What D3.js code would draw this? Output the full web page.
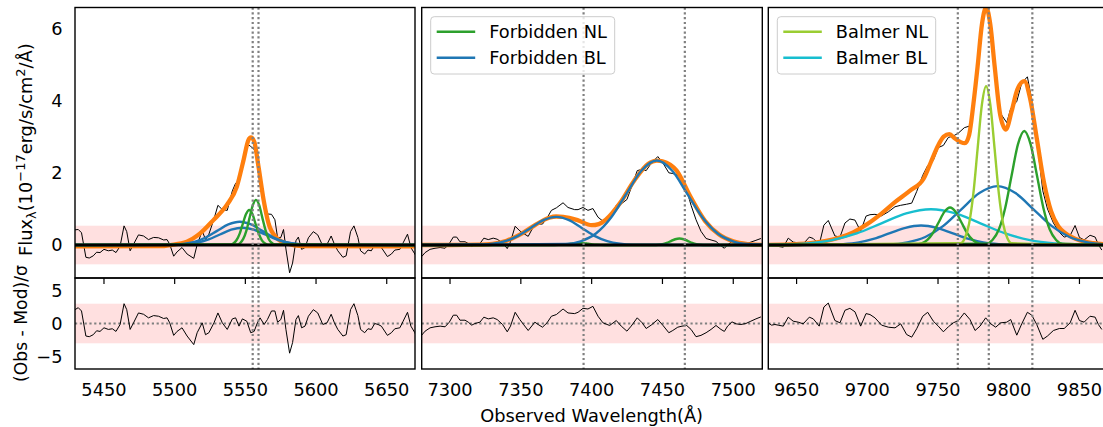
<!DOCTYPE html>
<html><head><meta charset="utf-8">
<script src="https://cdn.jsdelivr.net/npm/d3@7"></script>
<style>
body{margin:0;background:#fff}
svg{display:block}
text{font-family:"DejaVu Sans",sans-serif;fill:#000}
</style></head>
<body><svg id="c" width="1103" height="427"></svg>
<script>
// ---------------- DATA ----------------
const xDomain1 = [5429.5, 5670], xDomain2 = [7280, 7520.5], xDomain3 = [9630, 9870.4];
const xTicks1 = [5450, 5500, 5550, 5600, 5650];
const xTicks2 = [7300, 7350, 7400, 7450, 7500];
const xTicks3 = [9650, 9700, 9750, 9800, 9850];
const yTicksTop = [0, 2, 4, 6];
const yTicksRes = [-5, 0, 5];
const lineWave1 = [5555.2, 5559.3];
const lineWave2 = [7394.3, 7465.8];
const lineWave3 = [9764.0, 9785.9, 9816.7];
const noiseBand = 0.535, residBand = 3;

// Panel 1 observed spectrum / residuals
const obsWave1 = [5429.5,5431.8,5434.1,5437.2,5439.6,5442.4,5444.8,5447.2,5450.0,5453.1,
5455.9,5458.5,5461.4,5464.2,5466.1,5468.5,5470.9,5474.4,5478.0,5481.5,
5485.1,5488.6,5492.2,5494.6,5496.5,5499.3,5501.7,5505.2,5508.8,5513.5,
5515.9,5519.5,5521.8,5524.2,5527.8,5530.6,5533.7,5537.2,5540.8,5543.1,
5545.5,5547.9,5551.0,5553.8,5556.2,5558.5,5560.4,5563.3,5565.6,5568.5,
5570.9,5572.8,5575.1,5577.0,5578.7,5581.3,5583.4,5585.8,5587.5,5589.8,
5592.2,5594.6,5598.1,5601.2,5604.8,5607.8,5610.7,5613.0,5615.4,5619.0,
5621.3,5624.4,5626.8,5629.6,5631.5,5634.4,5636.7,5639.1,5641.5,5643.9,
5646.2,5650.5,5653.3,5655.7,5659.3,5661.6,5664.7,5667.1,5669.9,5671.6];
const obsFlux1 = [0.42,0.43,0.34,-0.34,-0.36,-0.30,-0.20,-0.21,-0.12,-0.16,
-0.14,-0.21,-0.03,0.53,0.37,-0.16,0.02,0.28,0.25,0.15,
0.21,0.20,0.14,0.15,0.02,-0.31,-0.19,-0.07,-0.25,-0.37,
0.01,0.39,0.15,0.30,0.72,1.10,0.98,0.96,1.50,1.71,
1.78,2.34,2.81,2.73,2.65,2.42,2.05,1.15,0.86,0.85,
0.70,0.20,0.21,0.43,-0.11,-0.77,-0.50,0.12,0.22,-0.12,
-0.07,0.20,0.37,0.28,-0.03,0.02,0.25,0.02,-0.16,-0.34,
-0.30,0.37,0.53,0.21,-0.16,-0.25,-0.14,-0.16,0.00,-0.03,
-0.07,-0.32,-0.25,-0.14,-0.12,0.06,0.30,-0.07,-0.25,-0.39];
const resid1 = [2.1,2.4,1.9,-1.9,-2.0,-1.7,-1.1,-1.2,-0.65,-0.9,
-0.8,-1.2,-0.15,3.0,2.1,-0.9,0.1,1.6,1.4,0.86,
1.2,1.1,0.76,0.86,0.1,-1.8,-1.2,-0.65,-1.9,-3.2,
-1.4,0.1,-1.7,-1.4,0.1,1.6,0.1,-0.9,0.7,0.86,
-0.4,0.7,0.35,-1.4,-1.2,0.1,0.86,-0.15,0.6,1.9,
1.9,0.2,0.6,2.0,-0.9,-4.5,-2.9,0.6,1.2,-0.65,
-0.4,1.1,2.1,1.6,-0.15,0.1,1.4,0.1,-0.9,-1.9,
-1.7,2.1,3.0,1.2,-0.9,-1.4,-0.8,-0.9,0.0,-0.15,
-0.4,-1.8,-1.4,-0.8,-0.65,0.35,1.7,-0.4,-1.4,-2.2];
const modelWave1 = [5429.5,5490,5497,5508.6,5518,5527.4,5536.9,5544,5548.7,5552.2,5553.9,5556.3,5559.3,5562.9,5566.4,5572.3,5579.4,5590,5670];
const modelFlux1 = [-0.04,-0.03,0.0,0.09,0.32,0.69,1.11,1.62,2.35,2.91,2.98,2.86,2.17,1.25,0.6,0.19,0.04,-0.03,-0.04];
const p1NLaWave = [5429.5,5539.2,5541.5,5543.7,5546.0,5548.2,5550.5,5552.7,5555.0,5557.2,5559.5,5561.7,5564.0,5566.2,5670];
const p1NLaFlux = [0,0.011,0.043,0.131,0.315,0.588,0.856,0.97,0.856,0.588,0.315,0.131,0.043,0.011,0];
const p1NLbWave = [5429.5,5544.0,5546.3,5548.5,5550.8,5553.0,5555.3,5557.5,5559.8,5562.0,5564.3,5566.5,5568.8,5571.0,5670];
const p1NLbFlux = [0,0.014,0.055,0.169,0.406,0.758,1.103,1.25,1.103,0.758,0.406,0.169,0.055,0.014,0];
const p1BLaWave = [5429.5,5498,5506,5514,5522,5530,5538,5546,5554,5562,5570,5578,5586,5594,5670];
const p1BLaFlux = [0,0.007,0.028,0.087,0.209,0.391,0.569,0.645,0.569,0.391,0.209,0.087,0.028,0.007,0];
const p1BLbWave = [5429.5,5500,5508,5516,5524,5532,5540,5548,5556,5564,5572,5580,5588,5596,5670];
const p1BLbFlux = [0,0.005,0.021,0.065,0.156,0.291,0.424,0.48,0.424,0.291,0.156,0.065,0.021,0.005,0];

// Panel 2
const obsWave2 = [7280.0,7282.4,7285.9,7289.4,7293.0,7296.5,7299.5,7302.3,7304.7,7307.0,
7310.6,7312.9,7315.3,7317.6,7321.1,7323.9,7327.0,7330.5,7333.3,7337.1,
7340.4,7342.7,7346.0,7349.3,7351.9,7355.2,7359.9,7362.2,7365.3,7368.5,
7371.6,7375.1,7379.8,7383.3,7388.0,7390.4,7393.9,7397.4,7400.9,7404.5,
7408.0,7412.7,7417.4,7420.9,7424.9,7427.9,7432.2,7435.7,7438.5,7442.0,
7446.7,7450.2,7454.5,7457.3,7460.8,7463.8,7467.1,7470.2,7473.7,7477.2,
7480.8,7484.3,7487.8,7491.3,7493.7,7496.0,7499.1,7501.9,7505.4,7508.9,
7512.4,7516.0,7519.5];
const obsFlux2 = [-0.32,-0.21,-0.12,-0.09,-0.07,-0.09,0.04,0.22,0.22,0.09,
0.09,0.04,-0.04,0.01,0.04,0.19,0.15,0.19,0.16,0.06,
-0.10,0.09,0.52,0.39,0.32,0.24,0.58,0.58,0.58,0.75,
0.96,1.03,1.17,1.04,0.98,0.98,1.04,0.96,1.01,0.77,
0.66,0.74,1.10,1.14,1.26,1.58,2.06,2.10,2.06,2.26,
2.45,2.28,2.00,1.98,1.93,1.76,1.52,1.10,0.70,0.38,
0.18,0.14,0.10,-0.02,-0.09,0.00,0.10,0.07,0.02,0.03,
0.08,0.13,0.18];
const resid2 = [-1.77,-1.16,-0.66,-0.5,-0.4,-0.5,0.2,1.26,1.26,0.5,
0.5,0.2,-0.25,0,0.2,0.96,0.7,0.86,0.6,-0.15,
-1.26,-0.4,1.7,0.6,-0.15,-1.06,0.2,-0.15,-0.56,0.1,
1.1,1.36,2.2,1.6,1.5,1.7,2.3,2.2,2.6,1.1,
0.1,-0.3,0.45,-0.4,-1.16,-0.4,0.86,0.1,-0.76,-0.25,
0.6,-0.25,-1.4,-1.06,-0.56,-0.4,-0.3,-0.9,-2.0,-1.8,
-1.4,-0.9,-0.3,-0.9,-1.2,-0.4,0.25,-0.05,-0.15,0,
0.35,0.7,1.0];
const modelWave2 = [7280,7300,7320,7330,7340,7350,7360,7370,7375,7380,7390,7400,7405,7410,7420,7430,7440,7446,7450,7460,7470,7480,7490,7500,7510,7520.5];
const modelFlux2 = [0,0,0.01,0.034,0.12,0.30,0.55,0.755,0.79,0.78,0.69,0.55,0.58,0.70,1.16,1.78,2.25,2.34,2.32,2.06,1.32,0.67,0.29,0.10,0.027,0.006];
const p2NLaWave = [7280,7373.5,7376.5,7379.5,7382.5,7385.5,7388.5,7391.5,7394.5,7397.5,7400.5,7403.5,7406.5,7409.5,7520.5];
const p2NLaFlux = [0,0.001,0.003,0.008,0.019,0.036,0.053,0.06,0.053,0.036,0.019,0.008,0.003,0.001,0];
const p2NLbWave = [7280,7444,7447,7450,7453,7456,7459,7462,7465,7468,7471,7474,7477,7480,7520.5];
const p2NLbFlux = [0,0.002,0.008,0.024,0.058,0.109,0.159,0.18,0.159,0.109,0.058,0.024,0.008,0.002,0];
const p2BLaWave = [7280,7321,7330,7339,7348,7357,7366,7375,7384,7393,7402,7411,7420,7429,7520.5];
const p2BLaFlux = [0,0.009,0.034,0.106,0.253,0.473,0.688,0.78,0.688,0.473,0.253,0.106,0.034,0.009,0];
const p2BLbWave = [7280,7381.5,7392.25,7403,7413.75,7424.5,7435.25,7446,7456.75,7467.5,7478.25,7489,7499.75,7510.5,7520.5];
const p2BLbFlux = [0,0.026,0.103,0.317,0.760,1.419,2.065,2.34,2.065,1.419,0.760,0.317,0.103,0.026,0.01];

// Panel 3
const obsWave3 = [9630.0,9632.3,9634.7,9637.0,9640.6,9644.1,9647.6,9651.2,9654.7,9659.0,
9661.8,9666.0,9669.3,9672.4,9677.1,9680.7,9684.2,9687.7,9691.3,9695.3,
9699.1,9701.9,9705.4,9710.1,9714.9,9719.6,9723.6,9727.8,9731.4,9734.9,
9739.2,9742.7,9746.7,9750.2,9753.8,9757.3,9760.8,9764.4,9768.6,9772.6,
9776.2,9779.7,9783.7,9787.3,9790.8,9794.3,9798.6,9801.4,9805.7,9809.2,
9813.2,9816.3,9819.8,9824.1,9827.4,9831.6,9835.8,9839.2,9843.4,9846.9,
9850.0,9853.3,9857.5,9861.1,9863.4,9865.8];
const obsFlux3 = [0.02,-0.04,-0.03,-0.04,-0.06,0.19,0.08,0.06,0.03,0.22,
0.18,0.01,0.55,0.68,0.25,0.22,0.61,0.72,0.69,0.38,
0.80,0.84,0.85,0.81,0.92,1.06,1.10,1.13,1.16,1.48,
1.93,2.20,2.35,2.70,2.76,2.98,3.02,3.10,3.25,3.30,
4.10,5.60,6.70,5.99,4.60,3.64,3.39,3.78,3.98,4.49,
4.66,4.02,2.92,1.50,1.00,0.61,0.35,0.22,0.26,0.54,
0.21,0.14,0.27,0.22,0.01,-0.14];
const resid3 = [0.1,-0.25,-0.15,-0.25,-0.4,0.96,0.35,0.2,-0.05,0.96,
0.7,-0.4,2.5,3.1,0.45,0.1,2.0,2.3,1.77,-0.4,
1.5,1.36,0.86,-0.25,-0.56,-0.66,-0.05,-1.67,-2.07,-0.8,
1.1,1.7,0.35,-0.4,-1.26,-0.5,0.1,0.45,1.6,0.6,
-1.06,-0.4,0.86,-0.05,-0.56,0.1,0.2,0.6,-1.77,-0.05,
1.7,1.26,-0.15,-2.4,-1.9,-1.06,-0.76,-0.76,0.1,2.0,
0.45,0.2,1.1,0.96,-0.15,-0.9];
const modelWave3 = [9630,9650,9660,9670,9680,9690,9700,9710,9720,9730,9740,9745,9750,9754,9758,9762,9766,9769,9772,9775,9778,9781,9784,9787,9790,9794,9798,9802,9806,9811,9815,9820,9825,9830,9835,9840,9845,9850,9860,9870.4];
const modelFlux3 = [0.004,0.025,0.05,0.105,0.2,0.35,0.58,0.87,1.2,1.5,1.85,2.3,2.75,3.0,3.07,2.95,2.85,2.82,3.05,3.9,4.95,6.1,6.58,6.1,4.97,3.6,3.2,3.7,4.3,4.54,4.08,2.91,1.72,0.93,0.52,0.33,0.21,0.13,0.05,0.015];
const p3BalNLWave = [9630,9766,9769,9772,9775,9778,9781,9784,9787,9790,9793,9796,9799,9802,9870.4];
const p3BalNLFlux = [0,0.049,0.193,0.595,1.429,2.669,3.883,4.4,3.883,2.669,1.429,0.595,0.193,0.049,0];
const p3BalBLWave = [9630,9640,9657.5,9675,9692.5,9710,9727.5,9745,9762.5,9780,9797.5,9815,9832.5,9850,9870.4];
const p3BalBLFlux = [0.002,0.011,0.043,0.134,0.321,0.600,0.874,0.99,0.874,0.600,0.321,0.134,0.043,0.011,0.002];
const p3NLaWave = [9630,9734.5,9738.5,9742.5,9746.5,9750.5,9754.5,9758.5,9762.5,9766.5,9770.5,9774.5,9778.5,9782.5,9870.4];
const p3NLaFlux = [0,0.012,0.046,0.141,0.338,0.631,0.918,1.04,0.918,0.631,0.338,0.141,0.046,0.012,0];
const p3NLbWave = [9630,9784,9788.5,9793,9797.5,9802,9806.5,9811,9815.5,9820,9824.5,9829,9833.5,9838,9870.4];
const p3NLbFlux = [0,0.035,0.139,0.428,1.026,1.917,2.789,3.16,2.789,1.917,1.026,0.428,0.139,0.035,0];
const p3BLaWave = [9630,9672,9683,9694,9705,9716,9727,9738,9749,9760,9771,9782,9793,9804,9870.4];
const p3BLaFlux = [0,0.006,0.024,0.073,0.175,0.328,0.477,0.54,0.477,0.328,0.175,0.073,0.024,0.006,0];
const p3BLbWave = [9630,9715.5,9728.25,9741,9753.75,9766.5,9779.25,9792,9804.75,9817.5,9830.25,9843,9855.75,9868.5,9870.4];
const p3BLbFlux = [0,0.018,0.072,0.221,0.529,0.989,1.438,1.63,1.438,0.989,0.529,0.221,0.072,0.018,0.015];

const legend2 = ["Forbidden NL", "Forbidden BL"];
const legend3 = ["Balmer NL", "Balmer BL"];

// ---------------- STYLE / LAYOUT ----------------
const FS = 17.8;
const C = {green:"#2ca02c", blue:"#1f77b4", orange:"#ff7f0e", ygreen:"#9acd32", cyan:"#17becf", grey:"#808080", pink:"#ffe0e0"};
const pxRanges = [[75,415],[421.7,762.3],[768.3,1108.3]];
const topRange = [278, 7.5], resRange = [369, 278];
const yTop = d3.scaleLinear().domain([-0.914, 6.58]).range(topRange);
const yRes = d3.scaleLinear().domain([-6.9, 6.9]).range(resRange);
const zip = (w,f) => w.map((v,i)=>[v,f[i]]);

const panels = [
 {dom:xDomain1, ticks:xTicks1, obs:zip(obsWave1,obsFlux1), res:zip(obsWave1,resid1), model:zip(modelWave1,modelFlux1), lines:lineWave1, legend:null, legendColors:null,
  comps:[[zip(p1BLaWave,p1BLaFlux),C.blue],[zip(p1BLbWave,p1BLbFlux),C.blue],[zip(p1NLaWave,p1NLaFlux),C.green],[zip(p1NLbWave,p1NLbFlux),C.green]]},
 {dom:xDomain2, ticks:xTicks2, obs:zip(obsWave2,obsFlux2), res:zip(obsWave2,resid2), model:zip(modelWave2,modelFlux2), lines:lineWave2, legend:legend2, legendColors:[C.green,C.blue],
  comps:[[zip(p2NLaWave,p2NLaFlux),C.green],[zip(p2NLbWave,p2NLbFlux),C.green],[zip(p2BLaWave,p2BLaFlux),C.blue],[zip(p2BLbWave,p2BLbFlux),C.blue]]},
 {dom:xDomain3, ticks:xTicks3, obs:zip(obsWave3,obsFlux3), res:zip(obsWave3,resid3), model:zip(modelWave3,modelFlux3), lines:lineWave3, legend:legend3, legendColors:[C.ygreen,C.cyan],
  comps:[[zip(p3BLaWave,p3BLaFlux),C.blue],[zip(p3BLbWave,p3BLbFlux),C.blue],[zip(p3BalBLWave,p3BalBLFlux),C.cyan],[zip(p3NLaWave,p3NLaFlux),C.green],[zip(p3NLbWave,p3NLbFlux),C.green],[zip(p3BalNLWave,p3BalNLFlux),C.ygreen]]}
];

const svg = d3.select("#c");
const defs = svg.append("defs");

panels.forEach((p, i) => {
  const x = d3.scaleLinear().domain(p.dom).range(pxRanges[i]);
  const [x0, x1] = pxRanges[i];
  defs.append("clipPath").attr("id","ct"+i).append("rect").attr("x",x0).attr("y",topRange[1]).attr("width",x1-x0).attr("height",topRange[0]-topRange[1]);
  defs.append("clipPath").attr("id","cr"+i).append("rect").attr("x",x0).attr("y",resRange[1]).attr("width",x1-x0).attr("height",resRange[0]-resRange[1]);

  // ---- top panel
  const gt = svg.append("g").attr("clip-path","url(#ct"+i+")");
  gt.append("rect").attr("x",x0).attr("width",x1-x0).attr("y",yTop(noiseBand)).attr("height",yTop(-noiseBand)-yTop(noiseBand)).attr("fill",C.pink);
  const lineLin = d3.line().x(d=>x(d[0])).y(d=>yTop(d[1]));
  const lineSm = d3.line().x(d=>x(d[0])).y(d=>yTop(d[1])).curve(d3.curveMonotoneX);
  gt.append("path").attr("d",lineLin(p.obs)).attr("fill","none").attr("stroke","#000").attr("stroke-width",1);
  gt.append("path").attr("d",lineSm(p.model)).attr("fill","none").attr("stroke",C.orange).attr("stroke-width",4.3).attr("stroke-linejoin","round");
  p.comps.forEach(([data,col]) => {
    gt.append("path").attr("d",lineSm(data)).attr("fill","none").attr("stroke",col).attr("stroke-width",2.4);
  });
  gt.append("line").attr("x1",x0).attr("x2",x1).attr("y1",yTop(0)).attr("y2",yTop(0)).attr("stroke","#000").attr("stroke-width",2.8);

  // ---- residual panel
  const gr = svg.append("g").attr("clip-path","url(#cr"+i+")");
  gr.append("rect").attr("x",x0).attr("width",x1-x0).attr("y",yRes(residBand)).attr("height",yRes(-residBand)-yRes(residBand)).attr("fill",C.pink);
  gr.append("line").attr("x1",x0).attr("x2",x1).attr("y1",yRes(0)).attr("y2",yRes(0)).attr("stroke",C.grey).attr("stroke-width",2.2).attr("stroke-dasharray","2.2,2.6");
  const lineR = d3.line().x(d=>x(d[0])).y(d=>yRes(d[1]));
  gr.append("path").attr("d",lineR(p.res)).attr("fill","none").attr("stroke","#000").attr("stroke-width",1);

  // ---- dotted line markers spanning both
  p.lines.forEach(w => {
    svg.append("line").attr("x1",x(w)).attr("x2",x(w)).attr("y1",topRange[1]).attr("y2",resRange[0])
      .attr("stroke",C.grey).attr("stroke-width",2.2).attr("stroke-dasharray","2.2,2.6");
  });

  // ---- frames
  svg.append("rect").attr("x",x0).attr("y",topRange[1]).attr("width",x1-x0).attr("height",topRange[0]-topRange[1]).attr("fill","none").attr("stroke","#000").attr("stroke-width",1.4);
  svg.append("rect").attr("x",x0).attr("y",resRange[1]).attr("width",x1-x0).attr("height",resRange[0]-resRange[1]).attr("fill","none").attr("stroke","#000").attr("stroke-width",1.4);

  // ---- x ticks
  p.ticks.forEach(t => {
    svg.append("line").attr("x1",x(t)).attr("x2",x(t)).attr("y1",278).attr("y2",284).attr("stroke","#000").attr("stroke-width",1.2);
    svg.append("text").attr("x",x(t)).attr("y",396).attr("text-anchor","middle").attr("font-size",FS).text(t);
  });

  // ---- legend
  if (p.legend) {
    const lx = x0 + 9, ly = 16.7, lw = (i===1?184:158.4), lh = 57.3;
    svg.append("rect").attr("x",lx).attr("y",ly).attr("width",lw).attr("height",lh).attr("rx",3.5)
      .attr("fill","#fff").attr("fill-opacity",0.8).attr("stroke","#cccccc").attr("stroke-width",1);
    p.legend.forEach((lab,k) => {
      const yy = 31.7 + k*26;
      svg.append("line").attr("x1",lx+6).attr("x2",lx+44.5).attr("y1",yy).attr("y2",yy).attr("stroke",p.legendColors[k]).attr("stroke-width",2.6);
      svg.append("text").attr("x",lx+58.5).attr("y",yy+6.4).attr("font-size",FS).text(lab);
    });
  }
});

// y tick labels (first panel only)
yTicksTop.forEach(v => svg.append("text").attr("x",62.5).attr("y",yTop(v)+6.4).attr("text-anchor","end").attr("font-size",FS).text(v));
yTicksRes.forEach(v => svg.append("text").attr("x",62.5).attr("y",yRes(v)+6.4).attr("text-anchor","end").attr("font-size",FS).text(v<0?"\u2212"+Math.abs(v):v));

// axis labels
svg.append("text").attr("x",591.7).attr("y",422).attr("text-anchor","middle").attr("font-size",FS).text("Observed Wavelength(\u00C5)");
const yl1 = svg.append("text").attr("transform","translate(32,256) rotate(-90)").attr("text-anchor","start").attr("font-size",FS);
yl1.append("tspan").text("Flux");
yl1.append("tspan").attr("font-size",13).attr("dy",4).text("\u03BB");
yl1.append("tspan").attr("dy",-4).text("(10");
yl1.append("tspan").attr("font-size",13).attr("dy",-7).text("\u221217");
yl1.append("tspan").attr("dy",7).text("erg/s/cm");
yl1.append("tspan").attr("font-size",13).attr("dy",-7).text("2");
yl1.append("tspan").attr("dy",7).text("/\u00C5)");
svg.append("text").attr("transform","translate(27,323.5) rotate(-90)").attr("text-anchor","middle").attr("font-size",17.2).text("(Obs - Mod)/\u03C3");
</script>
</body></html>
